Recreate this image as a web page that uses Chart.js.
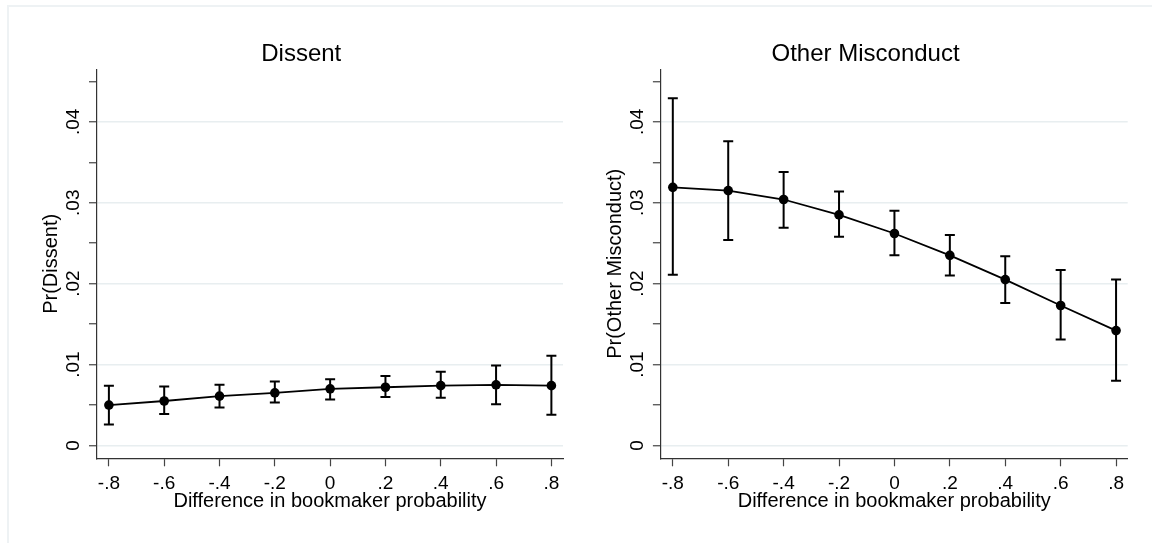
<!DOCTYPE html>
<html>
<head>
<meta charset="utf-8">
<script src="https://cdn.jsdelivr.net/npm/chart.js@4/dist/chart.umd.min.js"></script>
<style>
  html, body { margin: 0; padding: 0; background: #fff; }
  #wrap { position: relative; width: 1152px; height: 543px; overflow: hidden; }
  #frame { position: absolute; left: 7px; top: 5px; width: 1200px; height: 600px;
           border-top: 2px solid #eef2f4; border-left: 2px solid #eef2f4; }
  canvas { position: absolute; top: 0; }
</style>
</head>
<body>
<div id="wrap">
  <div id="frame"></div>
  <canvas id="dissent" width="576" height="543" style="left:0"></canvas>
  <canvas id="other" width="576" height="543" style="left:576px"></canvas>
</div>
<script>
// x positions and tick labels
var xValues = [-0.8, -0.6, -0.4, -0.2, 0, 0.2, 0.4, 0.6, 0.8];
var xTickLabels = ['-.8', '-.6', '-.4', '-.2', '0', '.2', '.4', '.6', '.8'];

// y ticks (every .005, labelled every .01)
var yTickValues = [0, 0.005, 0.01, 0.015, 0.02, 0.025, 0.03, 0.035, 0.04, 0.045];
var yMajorValues = [0, 0.01, 0.02, 0.03, 0.04];
var yMajorLabels = ['0', '.01', '.02', '.03', '.04'];

// Pr(Dissent) with 95% CI
var dissentPr = [0.0050, 0.0055, 0.0061, 0.0065, 0.0070, 0.0072, 0.0074, 0.0075, 0.0074];
var dissentLo = [0.0026, 0.0039, 0.0047, 0.0053, 0.0057, 0.0060, 0.0059, 0.0051, 0.0038];
var dissentHi = [0.0074, 0.0073, 0.0075, 0.0079, 0.0082, 0.0086, 0.0091, 0.0099, 0.0111];

// Pr(Other Misconduct) with 95% CI
var otherPr = [0.0319, 0.0315, 0.0304, 0.0285, 0.0262, 0.0235, 0.0205, 0.0173, 0.0142];
var otherLo = [0.0211, 0.0254, 0.0269, 0.0258, 0.0235, 0.0210, 0.0176, 0.0131, 0.0080];
var otherHi = [0.0429, 0.0376, 0.0338, 0.0314, 0.0290, 0.0260, 0.0234, 0.0217, 0.0205];

var FONT = "'Liberation Sans', Arial, sans-serif";

function isMajor(v) {
    return Math.abs(v * 100 - Math.round(v * 100)) < 1e-6;
}

// draws the CI whiskers under the line
var errorBars = {
    id: 'errorBars',
    beforeDatasetsDraw: function (chart, args, opts) {
        var ctx = chart.ctx, xs = chart.scales.x, ys = chart.scales.y;
        ctx.save();
        ctx.strokeStyle = '#000';
        ctx.lineWidth = 2;
        for (var i = 0; i < xValues.length; i++) {
            var px = xs.getPixelForValue(xValues[i]);
            var top = ys.getPixelForValue(opts.hi[i]);
            var bot = ys.getPixelForValue(opts.lo[i]);
            ctx.beginPath();
            ctx.moveTo(px, top); ctx.lineTo(px, bot);
            ctx.moveTo(px - 5, top); ctx.lineTo(px + 5, top);
            ctx.moveTo(px - 5, bot); ctx.lineTo(px + 5, bot);
            ctx.stroke();
        }
        ctx.restore();
    }
};

// vertical y tick labels, read bottom to top
var yLabels = {
    id: 'yLabels',
    afterDraw: function (chart) {
        var ctx = chart.ctx, ys = chart.scales.y;
        var x = chart.chartArea.left - 24;
        ctx.save();
        ctx.fillStyle = '#000';
        ctx.font = '19px ' + FONT;
        ctx.textAlign = 'center';
        ctx.textBaseline = 'middle';
        yMajorValues.forEach(function (v, i) {
            ctx.save();
            ctx.translate(x, ys.getPixelForValue(v));
            ctx.rotate(-Math.PI / 2);
            ctx.fillText(yMajorLabels[i], 0, 1);
            ctx.restore();
        });
        ctx.restore();
    }
};

function makeChart(id, title, yTitle, pr, lo, hi, padLeft, padRight) {
    var points = xValues.map(function (x, i) { return { x: x, y: pr[i] }; });
    return new Chart(document.getElementById(id), {
        type: 'line',
        data: {
            datasets: [{
                data: points,
                borderColor: '#000',
                borderWidth: 1.8,
                backgroundColor: '#000',
                pointRadius: 4.8,
                pointBorderWidth: 0,
                tension: 0
            }]
        },
        plugins: [errorBars, yLabels],
        options: {
            responsive: false,
            animation: false,
            devicePixelRatio: 1,
            layout: { padding: { left: padLeft, right: padRight, top: 0, bottom: 0 } },
            plugins: {
                legend: { display: false },
                tooltip: { enabled: false },
                errorBars: { lo: lo, hi: hi },
                title: {
                    display: true,
                    text: title,
                    color: '#000',
                    font: { family: FONT, size: 24, weight: 'normal', lineHeight: 1.2 },
                    padding: { top: 40.1, bottom: 0.4 }
                }
            },
            scales: {
                x: {
                    type: 'linear',
                    min: -0.843,
                    max: 0.842,
                    afterBuildTicks: function (s) { s.ticks = xValues.map(function (v) { return { value: v }; }); },
                    afterFit: function (s) { s.height = 84.7; },
                    ticks: {
                        color: '#000',
                        font: { family: FONT, size: 19 },
                        padding: 6,
                        maxRotation: 0,
                        autoSkip: false,
                        callback: function (v, i) { return xTickLabels[i]; }
                    },
                    grid: { drawOnChartArea: false, tickLength: 8, tickColor: '#444', tickWidth: 1.2 },
                    border: { color: '#333', width: 1.2 },
                    title: {
                        display: true,
                        text: 'Difference in bookmaker probability',
                        color: '#000',
                        font: { family: FONT, size: 20, lineHeight: 1.2 },
                        padding: { top: 0, bottom: 29.2 }
                    }
                },
                y: {
                    min: -0.00158,
                    max: 0.04649,
                    afterBuildTicks: function (s) { s.ticks = yTickValues.map(function (v) { return { value: v }; }); },
                    afterFit: function (s) { s.width = 57.5; },
                    ticks: { display: false },
                    grid: {
                        tickLength: 8,
                        tickColor: '#444',
                        tickWidth: 1.2,
                        lineWidth: 1.5,
                        color: function (c) { return isMajor(c.tick.value) ? '#e8eef0' : 'rgba(0,0,0,0)'; }
                    },
                    border: { color: '#333', width: 1.2 },
                    title: {
                        display: true,
                        text: yTitle,
                        color: '#000',
                        font: { family: FONT, size: 20, lineHeight: 1.2 },
                        padding: { top: 0, bottom: 0 }
                    }
                }
            }
        }
    });
}

makeChart('dissent', 'Dissent', 'Pr(Dissent)', dissentPr, dissentLo, dissentHi, 39.5, 13);
makeChart('other', 'Other Misconduct', 'Pr(Other Misconduct)', otherPr, otherLo, otherHi, 27.4, 24.3);
</script>
</body>
</html>
